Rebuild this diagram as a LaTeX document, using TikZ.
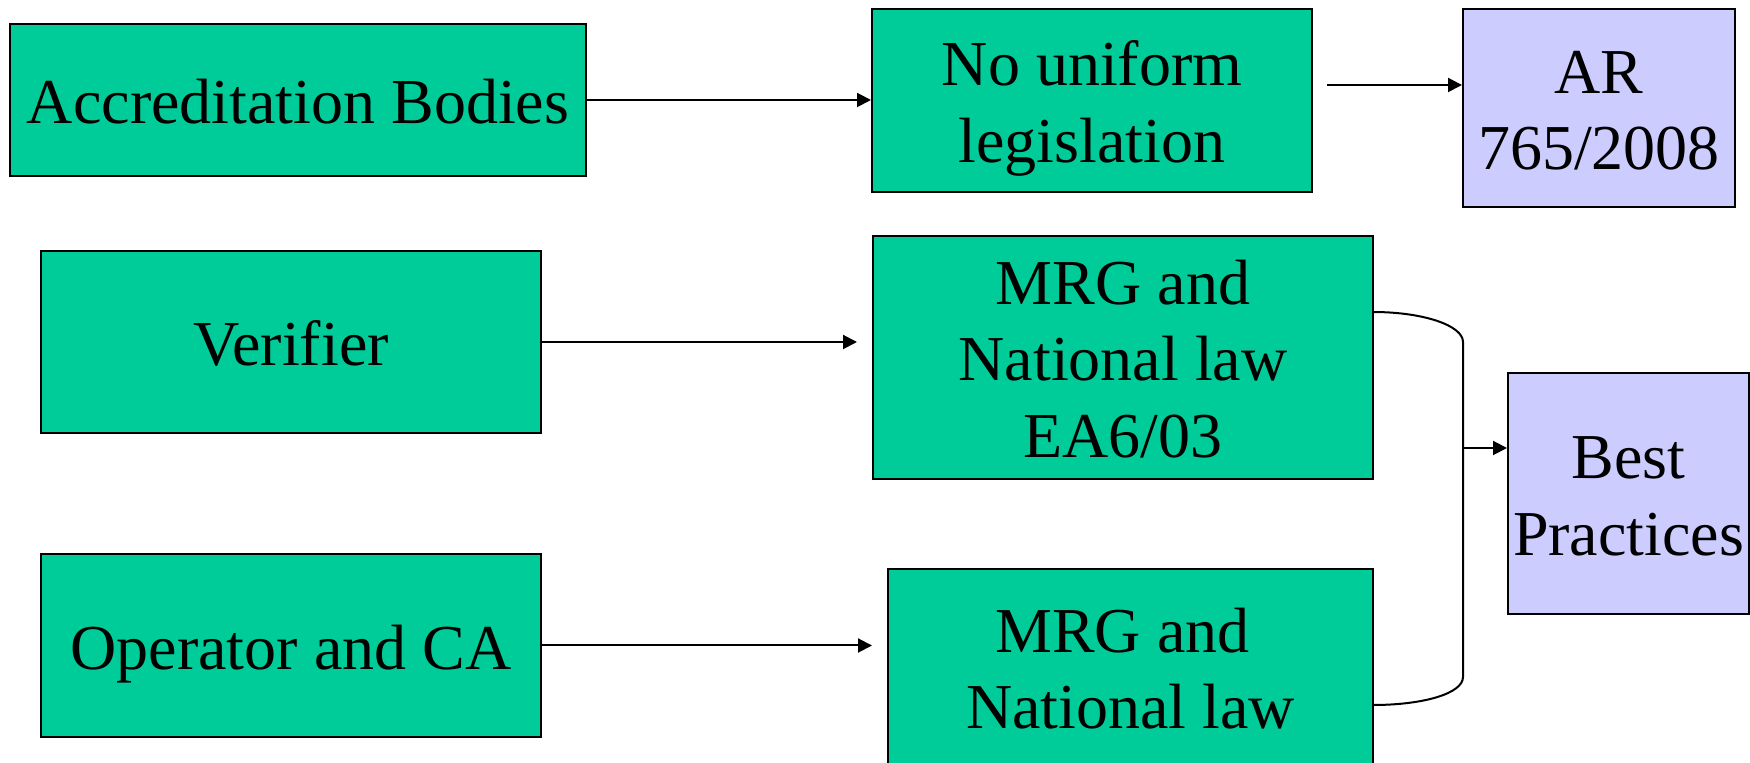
\documentclass[tikz,border=0pt]{standalone}
\usepackage{fontspec}
\setmainfont{Liberation Serif}
\usetikzlibrary{arrows.meta}
\definecolor{boxgreen}{RGB}{0,204,153}
\definecolor{boxlav}{RGB}{204,204,255}
\newcommand{\tls}{\rule{0pt}{31pt}}
\newcommand{\bls}{\rule[-7.5pt]{0pt}{7.5pt}}
\tikzset{
  gbox/.style={draw=black, line width=1pt, fill=boxgreen, inner sep=0pt, align=center,
    font=\fontsize{32}{38.4}\selectfont},
  lbox/.style={gbox, fill=boxlav},
  conn/.style={line width=1pt, -{Triangle[length=7pt,width=7pt]}},
  brace/.style={line width=1pt}
}
\begin{document}
\begin{tikzpicture}[x=0.5pt,y=-0.5pt]
\useasboundingbox (0,0) rectangle (1750,763);
\node[gbox, minimum width=288pt, minimum height=76pt] (acc) at (298,100) {\tls Accreditation Bodies\bls};
\node[gbox, minimum width=220pt, minimum height=91.5pt] (nouni) at (1092,100.5) {\tls No uniform\\legislation\bls};
\node[lbox, minimum width=136pt, minimum height=99pt] (ar) at (1599,108) {\tls AR\\765/2008\bls};
\node[gbox, minimum width=250pt, minimum height=91pt] (ver) at (291,342) {\tls Verifier\bls};
\node[gbox, minimum width=250pt, minimum height=121.5pt] (mrg1) at (1123,357.5) {\tls MRG and\\National law\\EA6/03\bls};
\node[gbox, minimum width=250pt, minimum height=91.5pt] (op) at (291,645.5) {\tls Operator and CA\bls};
\node[gbox, minimum width=242.5pt, minimum height=98pt] (mrg2) at (1130.5,667) {\tls MRG and\kern8pt\\National law\bls};
\node[lbox, minimum width=120.5pt, minimum height=120.5pt] (best) at (1628.5,493.5) {\tls Best\\Practices\bls};

\draw[conn] (acc.east) -- (acc.east -| nouni.west);
\coordinate (n1) at (1327,85);
\draw[conn] (n1) -- (n1 -| ar.west);
\coordinate (v1) at (ver.east);
\draw[conn, shorten >=7.5pt] (v1) -- (v1 -| mrg1.west);
\coordinate (o1) at (op.east);
\draw[conn, shorten >=7.5pt] (o1) -- (o1 -| mrg2.west);

\coordinate (bt) at (1373,312);
\coordinate (bb) at (1373,705);
\coordinate (bm) at (1463,448);
\draw[brace] (bt) .. controls (1423,312) and (1463,325.4) .. (1463,342)
  -- (1463,677) .. controls (1463,693.6) and (1423,705) .. (bb);
\draw[conn] (bm) -- (bm -| best.west);
\end{tikzpicture}
\end{document}
